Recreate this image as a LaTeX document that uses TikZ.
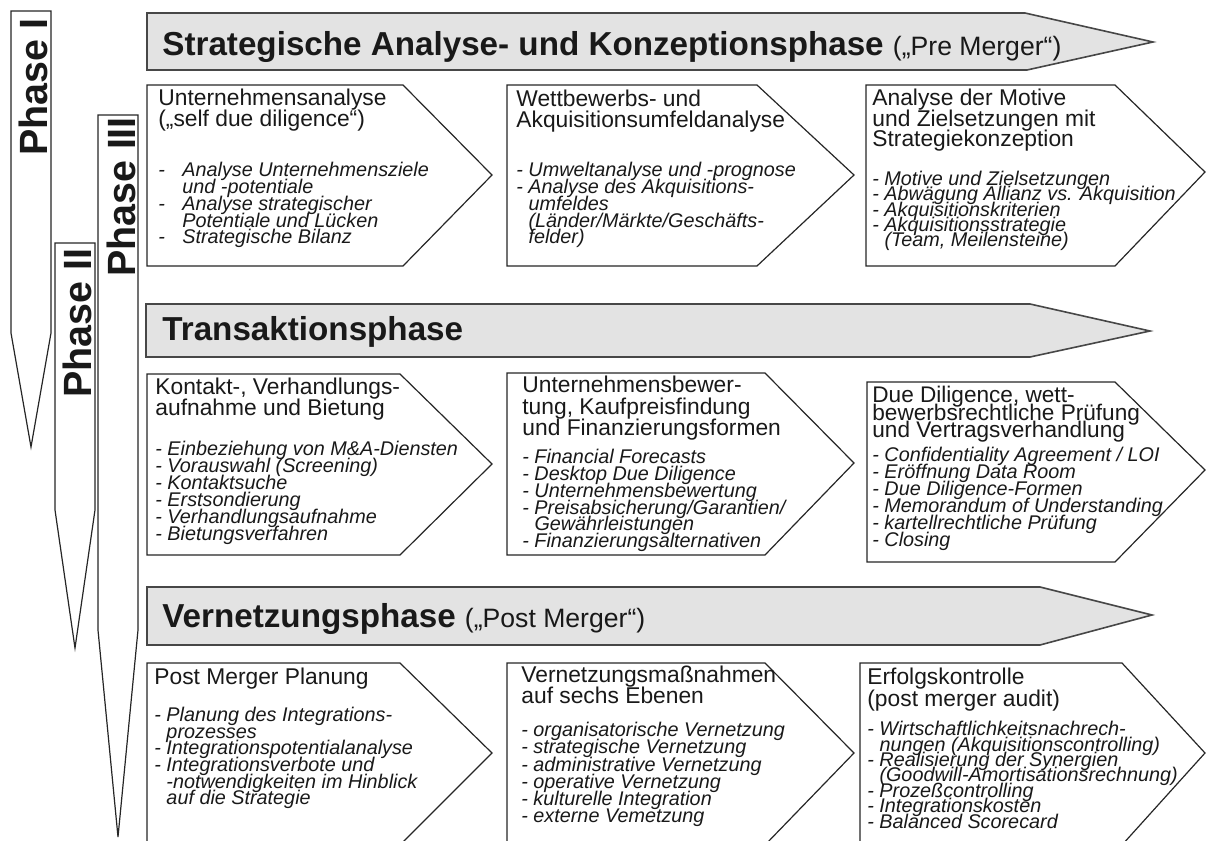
\documentclass[tikz,border=0pt]{standalone}
\usepackage{fontspec}
\setmainfont{Liberation Sans}
\newcommand\headsubfont{\mdseries\fontsize{13.3}{14}\selectfont}
\begin{document}
% lines in the lists are set closer than their glyph heights
\lineskiplimit=-1000pt
\begin{tikzpicture}[x=0.5pt,y=-0.5pt,
  phasearrow/.style={draw=black!85, line width=0.6pt, fill=white},
  headarrow/.style={draw=black!72, line width=0.8pt, fill=black!11},
  chevron/.style={draw=black!85, line width=0.6pt, fill=white},
  phaselabel/.style={rotate=90, anchor=base, inner sep=0pt, text=black!90,
    font=\bfseries\fontsize{19.7}{20}\selectfont},
  headtext/.style={anchor=base west, inner sep=0pt, text=black!90,
    font=\bfseries\fontsize{16.6}{18}\selectfont},
  boxtitle/.style={anchor=north west, inner sep=0pt, align=left, text=black!90,
    font=\fontsize{11.4}{10.2}\selectfont},
  boxitems/.style={anchor=north west, inner sep=0pt, align=left, text=black!90,
    font=\itshape\fontsize{9.9}{8.4}\selectfont},
]
\useasboundingbox (0,0) rectangle (1206,841);
\clip (0,0) rectangle (1206,841);

% phase arrows on the left
\draw[phasearrow] (11,11) -- (51,11) -- (51,333) -- (31,447) -- (11,333) -- cycle;
\draw[phasearrow] (55,243) -- (95,243) -- (95,510) -- (75,648) -- (55,510) -- cycle;
\draw[phasearrow] (98,115) -- (138,115) -- (138,630) -- (118,837) -- (98,630) -- cycle;
\node[phaselabel] (p1) at (47,87) {Phase I};
\node[phaselabel] (p2) at (91,323) {Phase II};
\node[phaselabel] (p3) at (135,197) {Phase III};

% phase headers
\draw[headarrow] (147,13) -- (1025,13) -- (1153,42) -- (1027,70) -- (147,70) -- cycle;
\draw[headarrow] (146,304) -- (1030,304) -- (1150,331) -- (1030,357) -- (146,357) -- cycle;
\draw[headarrow] (147,587) -- (1040,587) -- (1152,615) -- (1040,645) -- (147,645) -- cycle;
\node[headtext] (h1) at (162,55) {Strategische Analyse- und Konzeptionsphase {\headsubfont(„Pre Merger“)}};
\node[headtext] (h2) at (162,340) {Transaktionsphase};
\node[headtext] (h3) at (162,627) {Vernetzungsphase {\headsubfont(„Post Merger“)}};

% step boxes
\newcommand\stepchev[6]{\draw[chevron] (#1,#2) -- (#4,#2) -- (#5,#6) -- (#4,#3) -- (#1,#3) -- cycle;}
\stepchev{147}{85}{266}{403}{492}{175}
\stepchev{507}{85}{266}{757}{854}{175}
\stepchev{866}{85}{266}{1115}{1205}{172}
\stepchev{147}{374}{555}{400}{492}{464}
\stepchev{507}{373}{555}{765}{854}{463}
\stepchev{867}{382}{562}{1115}{1205}{470}
\stepchev{147}{663}{845}{400}{492}{753}
\stepchev{507}{663}{845}{765}{854}{753}
\stepchev{860}{663}{845}{1122}{1205}{753}

% row 1
\node[boxtitle] (t11) at (158,89) {Unternehmensanalyse\\(„self due diligence“)};
\node[boxitems] (i11) at (158,162) {\makebox[12pt][l]{-}Analyse Unternehmensziele\\\hspace*{12pt}und -potentiale\\\makebox[12pt][l]{-}Analyse strategischer\\\hspace*{12pt}Potentiale und Lücken\\\makebox[12pt][l]{-}Strategische Bilanz};
\node[boxtitle] (t12) at (516,90) {Wettbewerbs- und\\Akquisitionsumfeldanalyse};
\node[boxitems] (i12) at (516,162) {- Umweltanalyse und -prognose\\- Analyse des Akquisitions-\\\phantom{- }umfeldes\\\phantom{- }(Länder/Märkte/Geschäfts-\\\phantom{- }felder)};
\node[boxtitle] (t13) at (872,89) {Analyse der Motive\\und Zielsetzungen mit\\Strategiekonzeption};
\node[boxitems, font=\itshape\fontsize{9.9}{7.6}\selectfont] (i13) at (872,171) {- Motive und Zielsetzungen\\- Abwägung Allianz vs. Akquisition\\- Akquisitionskriterien\\- Akquisitionsstrategie\\\phantom{- }(Team, Meilensteine)};

% row 2
\node[boxtitle] (t21) at (155,378) {Kontakt-, Verhandlungs-\\aufnahme und Bietung};
\node[boxitems, font=\itshape\fontsize{9.9}{8.5}\selectfont] (i21) at (155,441) {- Einbeziehung von M\&A-Diensten\\- Vorauswahl (Screening)\\- Kontaktsuche\\- Erstsondierung\\- Verhandlungsaufnahme\\- Bietungsverfahren};
\node[boxtitle, font=\fontsize{11.4}{10.7}\selectfont] (t22) at (522,376) {Unternehmensbewer-\\tung, Kaufpreisfindung\\und Finanzierungsformen};
\node[boxitems] (i22) at (522,449) {- Financial Forecasts\\- Desktop Due Diligence\\- Unternehmensbewertung\\- Preisabsicherung/Garantien/\\\phantom{- }Gewährleistungen\\- Finanzierungsalternativen};
\node[boxtitle, font=\fontsize{11.3}{8.8}\selectfont] (t23) at (872,386) {Due Diligence, wett-\\bewerbsrechtliche Prüfung\\und Vertragsverhandlung};
\node[boxitems, font=\itshape\fontsize{9.9}{8.5}\selectfont] (i23) at (872,447) {- Confidentiality Agreement / LOI\\- Eröffnung Data Room\\- Due Diligence-Formen\\- Memorandum of Understanding\\- kartellrechtliche Prüfung\\- Closing};

% row 3
\node[boxtitle] (t31) at (154,668) {Post Merger Planung};
\node[boxitems, font=\itshape\fontsize{9.9}{8.3}\selectfont] (i31) at (154,707) {- Planung des Integrations-\\\phantom{- }prozesses\\- Integrationspotentialanalyse\\- Integrationsverbote und\\\phantom{- }-notwendigkeiten im Hinblick\\\phantom{- }auf die Strategie};
\node[boxtitle] (t32) at (521,666) {Vernetzungsmaßnahmen\\auf sechs Ebenen};
\node[boxitems, font=\itshape\fontsize{9.9}{8.6}\selectfont] (i32) at (521,722) {- organisatorische Vernetzung\\- strategische Vernetzung\\- administrative Vernetzung\\- operative Vernetzung\\- kulturelle Integration\\- externe Vemetzung};
\node[boxtitle, font=\fontsize{11.4}{11}\selectfont] (t33) at (867,668) {Erfolgskontrolle\\(post merger audit)};
\node[boxitems, font=\itshape\fontsize{9.9}{7.7}\selectfont] (i33) at (867,721) {- Wirtschaftlichkeitsnachrech-\\\phantom{- }nungen (Akquisitionscontrolling)\\- Realisierung der Synergien\\\phantom{- }(Goodwill-Amortisationsrechnung)\\- Prozeßcontrolling\\- Integrationskosten\\- Balanced Scorecard};
\end{tikzpicture}
\end{document}
